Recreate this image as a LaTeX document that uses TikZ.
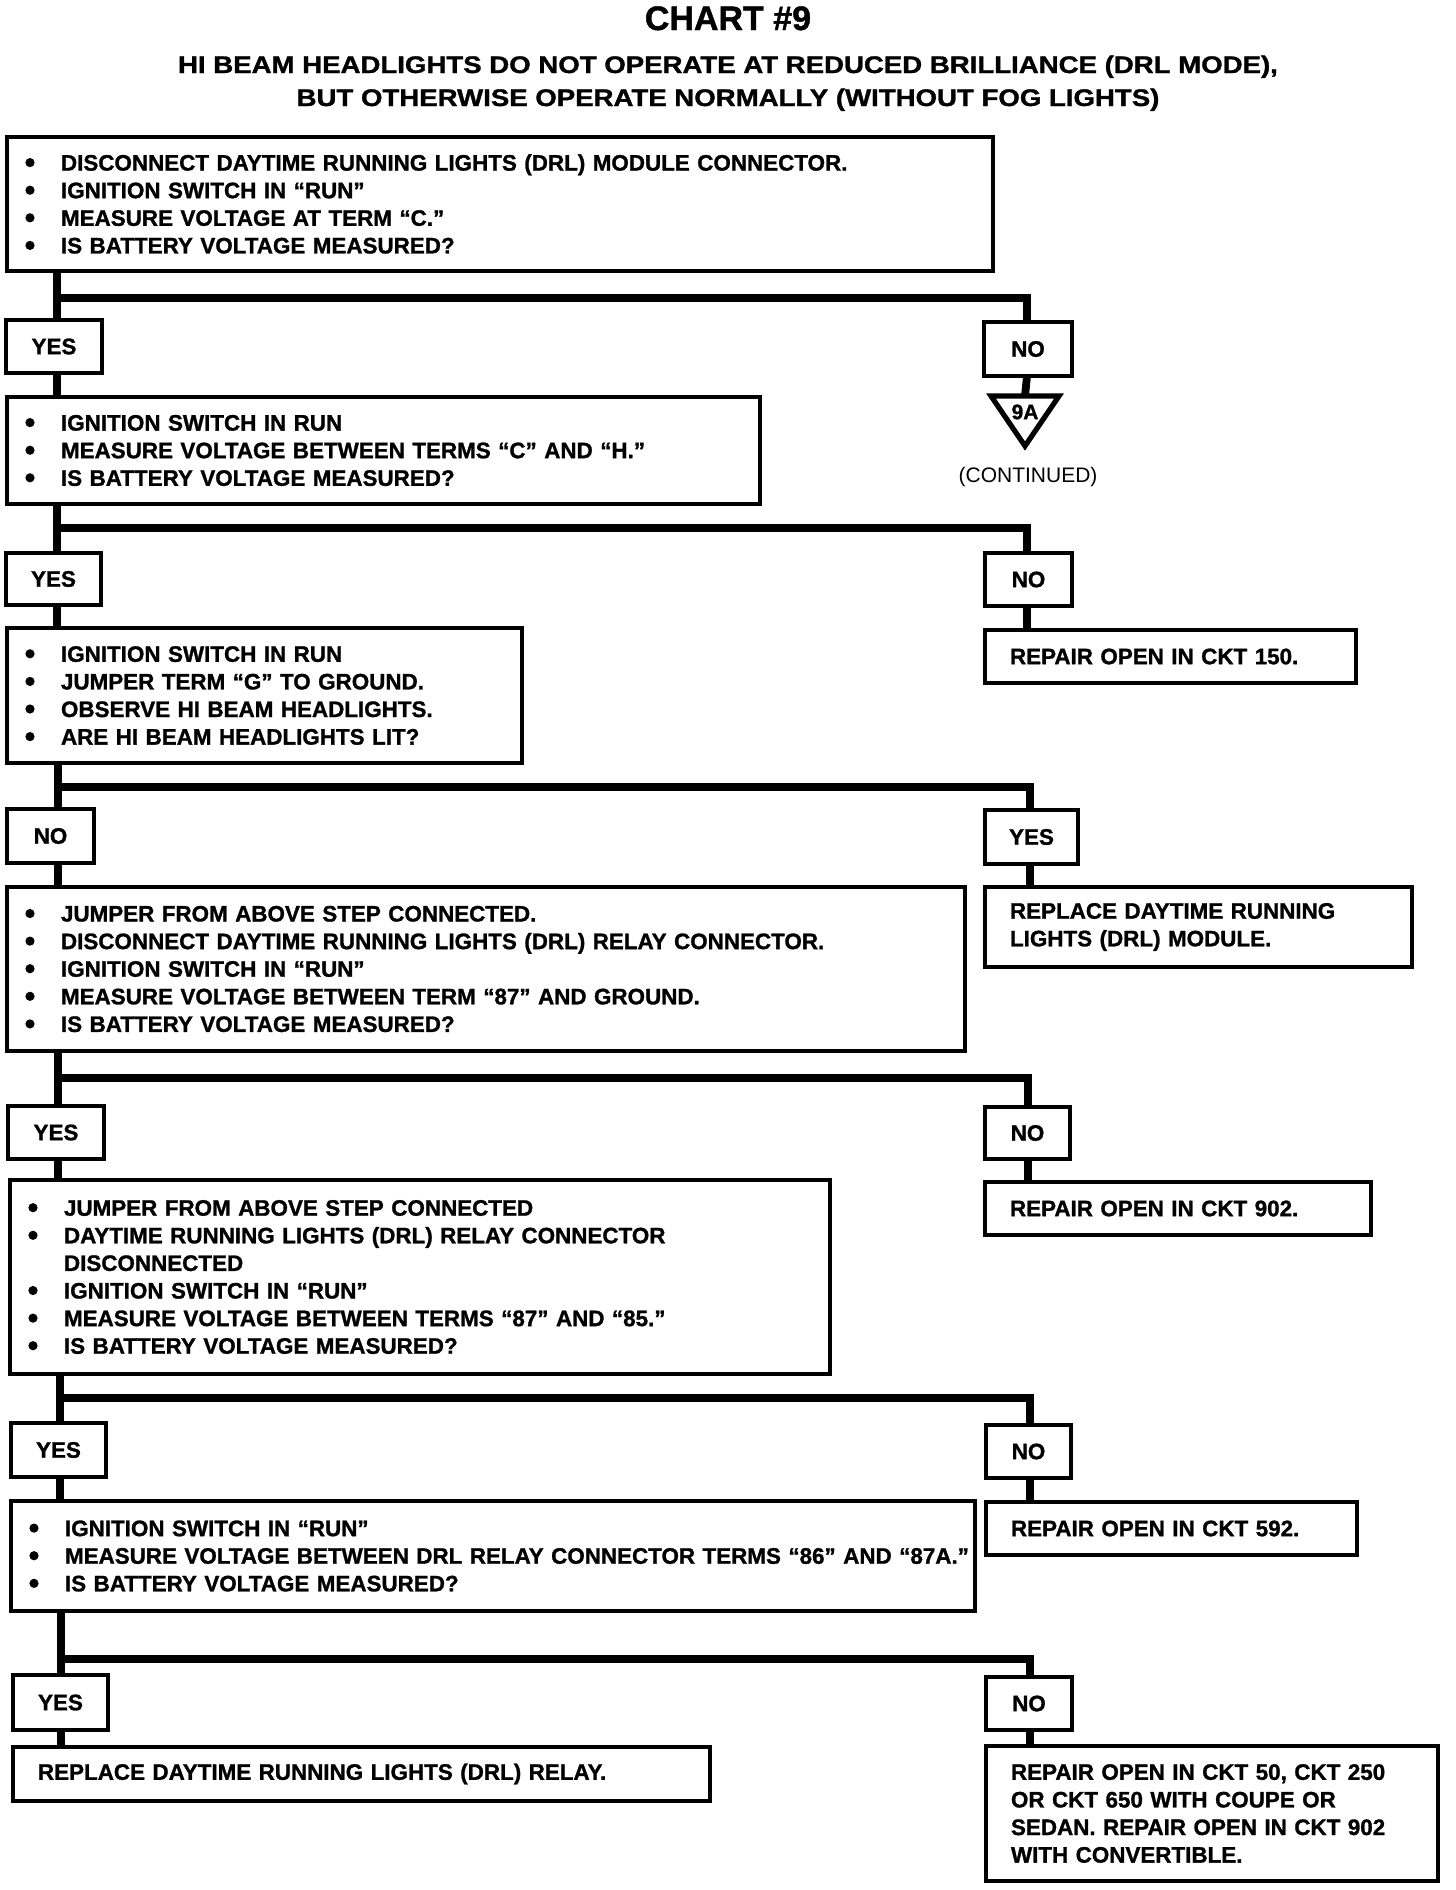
\documentclass[tikz,border=0pt]{standalone}
\usepackage{fontspec}
\usepackage{graphicx}
\setmainfont[BoldFeatures={FakeBold=1.2}]{Liberation Sans}
\newcommand\bodyfont{\fontsize{11.2pt}{13.8pt}\selectfont\bfseries}
\newcommand\bdot{\tikz[baseline=0pt]{\fill (0pt,4pt) circle[radius=2.3pt];}}
\newcommand\bul[1]{\mbox{\makebox[20pt][l]{\hspace*{2.2pt}\bdot}#1}}
\newcommand\indl[1]{\mbox{\hspace*{20pt}#1}}
\begin{document}
\begin{tikzpicture}[x=0.5pt,y=-0.5pt,
  every node/.style={inner sep=0pt, outer sep=0pt},
  box/.style={draw, line width=1.6pt, anchor=north west, inner xsep=7pt, inner ysep=0pt, align=left, font=\bodyfont},
  res/.style={box, inner xsep=12.5pt},
  lbl/.style={draw, line width=1.6pt, anchor=north west, inner sep=0pt, align=center, font=\bodyfont},
  trunk/.style={line width=3.9pt},
  bar/.style={line width=4.4pt, line join=miter},
]
\useasboundingbox (0,0) rectangle (1456,1890);

% titles
\node[anchor=base, font=\fontsize{17pt}{20pt}\selectfont\bfseries] (title) at (728,30) {CHART \#9};
\node[anchor=base, font=\fontsize{12pt}{15pt}\selectfont\bfseries] (sub1) at (728,73) {\scalebox{1.15}[1]{HI BEAM HEADLIGHTS DO NOT OPERATE AT REDUCED BRILLIANCE (DRL MODE),}};
\node[anchor=base, font=\fontsize{12pt}{15pt}\selectfont\bfseries] (sub2) at (728,106) {\scalebox{1.15}[1]{BUT OTHERWISE OPERATE NORMALLY (WITHOUT FOG LIGHTS)}};

% ---------- section 1
\node[box, minimum width=493pt, minimum height=67pt, text width=479pt] (b1) at (7,137)
 {\bul{DISCONNECT DAYTIME RUNNING LIGHTS (DRL) MODULE CONNECTOR.}\\
  \bul{IGNITION SWITCH IN “RUN”}\\
  \bul{MEASURE VOLTAGE AT TERM “C.”}\\
  \bul{IS BATTERY VOLTAGE MEASURED?}};
\node[lbl, minimum width=48pt, minimum height=26.5pt] (y1) at (6,320) {YES};
\node[lbl, minimum width=44pt, minimum height=27pt] (n1) at (984,322) {NO};
\coordinate (t1) at (57,298);
\coordinate (r1) at (1027,298);
\draw[trunk] (b1.south -| t1) -- (y1.north -| t1);
\draw[bar] (t1) -- (r1) -- (n1.north -| r1);

% connector triangle 9A
\coordinate (tri) at (1025,396);
\coordinate (triL) at (991,396);
\coordinate (triR) at (1059,396);
\coordinate (triB) at (1025,446);
\draw[trunk] (n1.south -| r1) -- (tri);
\draw[line width=2.6pt, line join=miter] (triL) -- (triR) -- (triB) -- cycle;
\node[font=\fontsize{10.5pt}{12pt}\selectfont\bfseries] (t9a) at (1025,412) {9A};
\node[anchor=base, font=\fontsize{10.5pt}{12pt}\selectfont] (cont) at (1028,482) {(CONTINUED)};

% ---------- section 2
\node[box, minimum width=376.5pt, minimum height=53.5pt, text width=362.5pt] (b2) at (7,397)
 {\bul{IGNITION SWITCH IN RUN}\\
  \bul{MEASURE VOLTAGE BETWEEN TERMS “C” AND “H.”}\\
  \bul{IS BATTERY VOLTAGE MEASURED?}};
\draw[trunk] (y1.south -| t1) -- (b2.north -| t1);
\node[lbl, minimum width=47.5pt, minimum height=26pt] (y2) at (6,553) {YES};
\node[lbl, minimum width=43.5pt, minimum height=26.5pt] (n2) at (985,553) {NO};
\coordinate (t2) at (57,528);
\coordinate (r2) at (1027,528);
\draw[trunk] (b2.south -| t2) -- (y2.north -| t2);
\draw[bar] (t2) -- (r2) -- (n2.north -| r2);
\node[res, minimum width=185.5pt, minimum height=26.5pt, text width=160.5pt] (r150) at (985,630) {REPAIR OPEN IN CKT 150.};
\draw[trunk] (n2.south -| r2) -- (r150.north -| r2);

% ---------- section 3
\node[box, minimum width=257.5pt, minimum height=67.5pt, text width=243.5pt] (b3) at (7,628)
 {\bul{IGNITION SWITCH IN RUN}\\
  \bul{JUMPER TERM “G” TO GROUND.}\\
  \bul{OBSERVE HI BEAM HEADLIGHTS.}\\
  \bul{ARE HI BEAM HEADLIGHTS LIT?}};
\draw[trunk] (y2.south -| t2) -- (b3.north -| t2);
\node[lbl, minimum width=43.5pt, minimum height=27pt] (n3) at (7,809) {NO};
\node[lbl, minimum width=46.5pt, minimum height=27pt] (y3) at (985,810) {YES};
\coordinate (t3) at (58,787);
\coordinate (r3) at (1030,787);
\draw[trunk] (b3.south -| t3) -- (n3.north -| t3);
\draw[bar] (t3) -- (r3) -- (y3.north -| r3);
\node[res, minimum width=213.5pt, minimum height=40pt, text width=188.5pt] (rmod) at (985,887)
 {REPLACE DAYTIME RUNNING\\ LIGHTS (DRL) MODULE.};
\draw[trunk] (y3.south -| r3) -- (rmod.north -| r3);

% ---------- section 4
\node[box, minimum width=479pt, minimum height=82pt, text width=465pt] (b4) at (7,887)
 {\bul{JUMPER FROM ABOVE STEP CONNECTED.}\\
  \bul{DISCONNECT DAYTIME RUNNING LIGHTS (DRL) RELAY CONNECTOR.}\\
  \bul{IGNITION SWITCH IN “RUN”}\\
  \bul{MEASURE VOLTAGE BETWEEN TERM “87” AND GROUND.}\\
  \bul{IS BATTERY VOLTAGE MEASURED?}};
\draw[trunk] (n3.south -| t3) -- (b4.north -| t3);
\node[lbl, minimum width=48pt, minimum height=26.5pt] (y4) at (8,1106) {YES};
\node[lbl, minimum width=42.5pt, minimum height=26pt] (n4) at (985,1107) {NO};
\coordinate (t4) at (58,1078);
\coordinate (r4) at (1028,1078);
\draw[trunk] (b4.south -| t4) -- (y4.north -| t4);
\draw[bar] (t4) -- (r4) -- (n4.north -| r4);
\node[res, minimum width=193pt, minimum height=26.5pt, text width=168pt] (r902) at (985,1182) {REPAIR OPEN IN CKT 902.};
\draw[trunk] (n4.south -| r4) -- (r902.north -| r4);

% ---------- section 5
\node[box, minimum width=410pt, minimum height=97pt, text width=396pt] (b5) at (10,1180)
 {\bul{JUMPER FROM ABOVE STEP CONNECTED}\\
  \bul{DAYTIME RUNNING LIGHTS (DRL) RELAY CONNECTOR}\\
  \indl{DISCONNECTED}\\
  \bul{IGNITION SWITCH IN “RUN”}\\
  \bul{MEASURE VOLTAGE BETWEEN TERMS “87” AND “85.”}\\
  \bul{IS BATTERY VOLTAGE MEASURED?}};
\draw[trunk] (y4.south -| t4) -- (b5.north -| t4);
\node[lbl, minimum width=47.5pt, minimum height=27pt] (y5) at (11,1423) {YES};
\node[lbl, minimum width=42.5pt, minimum height=26.5pt] (n5) at (986,1425) {NO};
\coordinate (t5) at (60,1398);
\coordinate (r5) at (1030,1398);
\draw[trunk] (b5.south -| t5) -- (y5.north -| t5);
\draw[bar] (t5) -- (r5) -- (n5.north -| r5);
\node[res, minimum width=185.5pt, minimum height=26.5pt, text width=160.5pt] (r592) at (986,1502) {REPAIR OPEN IN CKT 592.};
\draw[trunk] (n5.south -| r5) -- (r592.north -| r5);

% ---------- section 6
\node[box, minimum width=482pt, minimum height=55pt, text width=468pt] (b6) at (11,1501)
 {\bul{IGNITION SWITCH IN “RUN”}\\
  \bul{MEASURE VOLTAGE BETWEEN DRL RELAY CONNECTOR TERMS “86” AND “87A.”}\\
  \bul{IS BATTERY VOLTAGE MEASURED?}};
\draw[trunk] (y5.south -| t5) -- (b6.north -| t5);
\node[lbl, minimum width=47.5pt, minimum height=27.5pt] (y6) at (13,1675) {YES};
\node[lbl, minimum width=43pt, minimum height=26.5pt] (n6) at (986,1677) {NO};
\coordinate (t6) at (61,1659);
\coordinate (r6) at (1030,1659);
\draw[trunk] (b6.south -| t6) -- (y6.north -| t6);
\draw[bar] (t6) -- (r6) -- (n6.north -| r6);
\node[res, minimum width=348.5pt, minimum height=27pt, text width=323.5pt] (relay) at (13,1747) {REPLACE DAYTIME RUNNING LIGHTS (DRL) RELAY.};
\node[res, minimum width=226pt, minimum height=67.5pt, text width=201pt] (rfin) at (986,1746)
 {REPAIR OPEN IN CKT 50, CKT 250\\
  OR CKT 650 WITH COUPE OR\\
  SEDAN. REPAIR OPEN IN CKT 902\\
  WITH CONVERTIBLE.};
\draw[trunk] (y6.south -| t6) -- (relay.north -| t6);
\draw[trunk] (n6.south -| r6) -- (rfin.north -| r6);
\end{tikzpicture}
\end{document}
